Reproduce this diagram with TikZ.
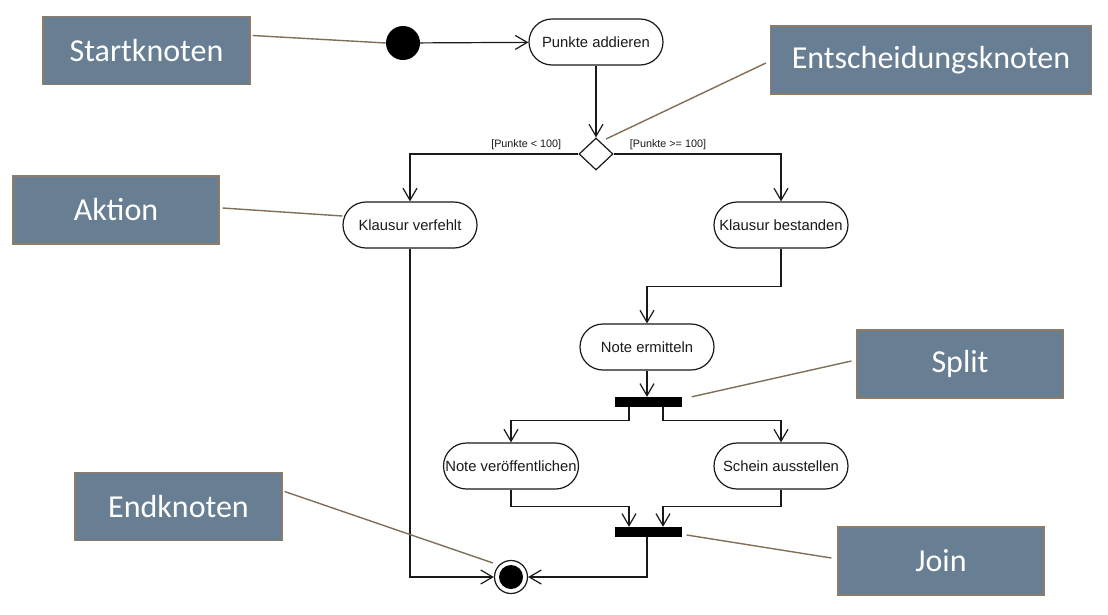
\documentclass[tikz,border=0pt]{standalone}
\usepackage{fontspec}
\setmainfont{Liberation Sans}
\newfontfamily\calloutfont{Carlito}
\usetikzlibrary{shapes.geometric, arrows.meta}
\definecolor{boxblue}{RGB}{103,126,147}
\definecolor{boxrim}{RGB}{140,123,102}
\definecolor{leader}{RGB}{127,111,88}
\definecolor{ink}{RGB}{25,25,25}

\begin{document}
\begin{tikzpicture}[x=1pt, y=-1pt,
    action/.style={draw=ink, line width=1.2pt, rectangle, rounded corners=23pt, minimum width=134pt, minimum height=46pt, inner sep=0pt, text=ink, font=\fontsize{14.8}{16}\selectfont},
    bar/.style={fill=black, minimum width=67pt, minimum height=10pt, inner sep=0pt},
    flow/.style={draw=ink, line width=1.2pt, -{Straight Barb[length=12pt,width=14pt,line width=1.2pt]}},
    guard/.style={text=ink, font=\fontsize{10.8}{12}\selectfont, inner sep=0pt},
    callout/.style={rectangle, fill=boxblue, draw=boxrim, line width=1.2pt, text=white, minimum width=206pt, minimum height=68pt, font=\calloutfont\fontsize{32}{36}\selectfont},
    leaderline/.style={draw=leader, line width=1.4pt}]
    \useasboundingbox (0,0) rectangle (1108,614);

    \node [circle, fill=black, minimum size=34pt, inner sep=0pt] (start) at (403,43) {};
    \node [action] (addieren) at (596,42) {Punkte addieren};
    \node [diamond, draw=ink, line width=1.2pt, fill=white, minimum width=34pt, minimum height=32pt, inner sep=0pt] (dec) at (596,154) {};
    \node [action] (verfehlt) at (410,225) {Klausur verfehlt};
    \node [action] (bestanden) at (781,225) {Klausur bestanden};
    \node [action] (ermitteln) at (647,347) {Note ermitteln};
    \node [bar] (split) at (648,402) {};
    \node [action, minimum width=135pt] (veroeff) at (511,466) {Note veröffentlichen};
    \node [action] (schein) at (781,466) {Schein ausstellen};
    \node [bar] (join) at (648,532) {};
    \node [circle, draw=ink, line width=1.2pt, fill=white, minimum size=33pt, inner sep=0pt] (end) at (511,577) {};
    \fill (end.center) circle (12pt);

    \draw [flow] (start) -- (addieren);
    \draw [flow] (addieren) -- (dec.north);
    \draw [flow] (dec.west) -| (verfehlt.north);
    \draw [flow] (dec.east) -| (bestanden.north);
    \node [guard, anchor=south east] (guardlow) at ([xshift=-17pt, yshift=4pt]dec.west) {[Punkte < 100]};
    \node [guard, anchor=south west] (guardhigh) at ([xshift=16pt, yshift=4pt]dec.east) {[Punkte >= 100]};
    \draw [flow] (bestanden.south) -- ++(0,38) -| (ermitteln.north);
    \draw [flow] (ermitteln.south) -- (ermitteln.south |- split.north);
    \draw [flow] ([xshift=-19pt]split.south) -- ++(0,13) -| (veroeff.north);
    \draw [flow] ([xshift=15pt]split.south) -- ++(0,13) -| (schein.north);
    \draw [flow] (veroeff.south) -- ++(0,17) -| ([xshift=-19pt]join.north);
    \draw [flow] (schein.south) -- ++(0,17) -| ([xshift=15pt]join.north);
    \draw [flow] (verfehlt.south) |- (end);
    \draw [flow] ([xshift=-1pt]join.south) |- (end);

    \node [callout, minimum width=207pt] (startk) at (146.5,50.5) {Startknoten};
    \node [callout, minimum width=321pt] (entsch) at (931,60) {Entscheidungsknoten};
    \node [callout] (aktion) at (116,210) {Aktion};
    \node [callout] (splitk) at (960,364) {Split};
    \node [callout, minimum width=207pt] (endk) at (178.5,506.5) {Endknoten};
    \node [callout] (joink) at (941,561) {Join};

    \draw [leaderline] ([xshift=2pt, yshift=15pt]startk.east) -- (start.west);
    \draw [leaderline] ([xshift=-4pt, yshift=-3pt]entsch.west) -- ([xshift=10pt, yshift=15pt]dec.center);
    \draw [leaderline] ([xshift=3pt, yshift=2pt]aktion.east) -- ([yshift=9pt]verfehlt.west);
    \draw [leaderline] ([xshift=-5pt, yshift=3pt]splitk.west) -- ([xshift=10pt]split.north east);
    \draw [leaderline] ([xshift=2pt, yshift=15pt]endk.east) -- ([xshift=-18pt, yshift=14pt]end.center);
    \draw [leaderline] ([xshift=-6pt, yshift=3pt]joink.west) -- ([xshift=5pt, yshift=-3pt]join.east);
\end{tikzpicture}
\end{document}
